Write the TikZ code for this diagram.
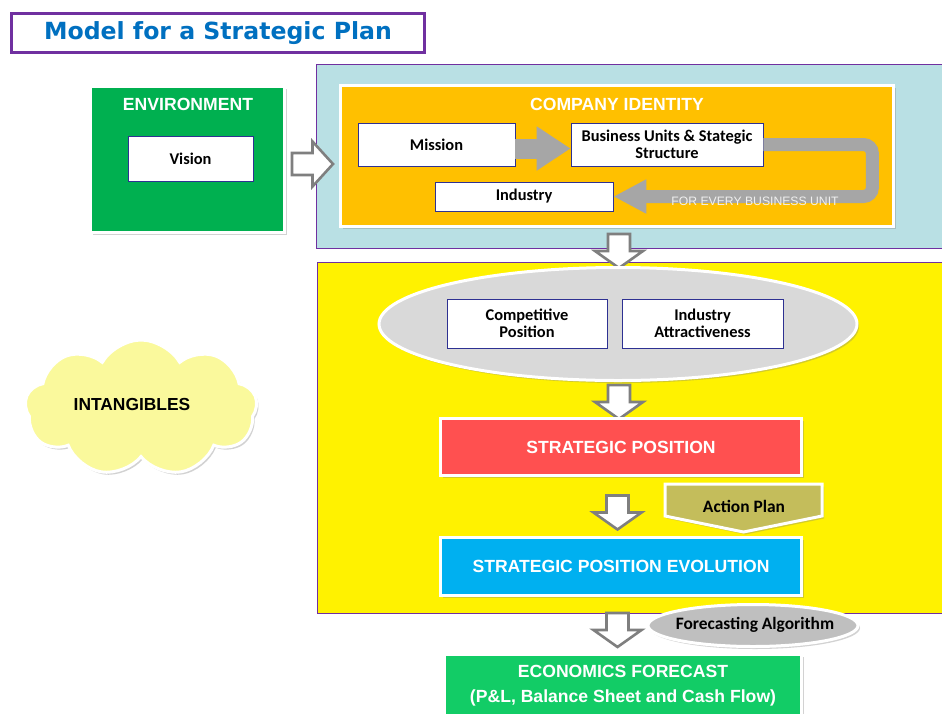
\documentclass[tikz,border=0pt]{standalone}
\usepackage{fontspec}
\usetikzlibrary{shapes,shadows,arrows.meta}
\newfontfamily\arialfont{Liberation Sans}
\newfontfamily\calibrifont{Carlito}
\newfontfamily\verdanafont{DejaVu Sans}
\definecolor{planpurple}{HTML}{7030A0}
\definecolor{titleblue}{HTML}{0070C0}
\definecolor{envgreen}{HTML}{00B050}
\definecolor{identityorange}{HTML}{FFC000}
\definecolor{panelblue}{HTML}{B9E0E4}
\definecolor{boxnavy}{HTML}{2E3192}
\definecolor{flowgray}{HTML}{A6A6A6}
\definecolor{hollowgray}{HTML}{7F7F7F}
\definecolor{ellipsegray}{HTML}{D9D9D9}
\definecolor{posred}{HTML}{FF5050}
\definecolor{evolblue}{HTML}{00B0F0}
\definecolor{actionolive}{HTML}{C4BD5B}
\definecolor{algogray}{HTML}{BFBFBF}
\definecolor{econgreen}{HTML}{12CC66}
\definecolor{cloudyellow}{HTML}{FAF99C}

\tikzset{
  panel/.style={shape=rectangle,draw=planpurple,line width=0.9pt},
  shadowed/.style={draw=white,line width=3pt,drop shadow={shadow xshift=2pt,shadow yshift=-2.5pt,opacity=0.35}},
  whitebox/.style={shape=rectangle,draw=boxnavy,fill=white,line width=0.8pt,align=center,inner sep=0pt,font=\calibrifont\bfseries\fontsize{16.4}{17.5}\selectfont},
  headtext/.style={text=white,align=center,font=\arialfont\bfseries\fontsize{17.6}{25}\selectfont},
  calibritext/.style={align=center,font=\calibrifont\bfseries\fontsize{17.4}{19}\selectfont},
  hollowarrow/.style={draw=hollowgray,fill=white,line width=2.6pt},
  flowline/.style={draw=flowgray},
  pics/downarrow/.style={code={\draw[hollowarrow] (-11,-17) -- (11,-17) -- (11,0) -- (24,0) -- (0,17) -- (-24,0) -- (-11,0) -- cycle;}},
  pics/rightarrow/.style={code={\draw[hollowarrow] (-20.5,-11) -- (0,-11) -- (0,-22.5) -- (20.5,0) -- (0,22.5) -- (0,11) -- (-20.5,11) -- cycle;}},
}

\begin{document}
\begin{tikzpicture}[x=1pt,y=-1pt]
\useasboundingbox (0,0) rectangle (942,713);
\fill[white] (0,0) rectangle (942,713);

\node[shape=rectangle,draw=planpurple,line width=3pt,fill=white,minimum width=413,minimum height=39,text=titleblue,font=\verdanafont\bfseries\fontsize{23.6}{28}\selectfont] (title) at (218,33) {Model for a Strategic Plan};

\node[panel,fill=panelblue,minimum width=634,minimum height=184] (identitypanel) at (633.5,156.5) {};
\node[panel,fill=yellow,minimum width=634,minimum height=351] (positionpanel) at (634,437.5) {};
\pic at (619,251) {downarrow};

\node[shadowed,fill=envgreen,minimum width=194,minimum height=146] (environment) at (187.5,159.5) {};
\node[headtext] (envtitle) at (188,104) {ENVIRONMENT};
\node[whitebox,minimum width=125,minimum height=45] (vision) at (190.5,158.5) {Vision};
\pic at (312.5,164) {rightarrow};

\node[shadowed,fill=identityorange,minimum width=553,minimum height=141] (identity) at (617,156) {};
\node[headtext] (identitytitle) at (617,104) {COMPANY IDENTITY};
\node[whitebox,minimum width=157,minimum height=43] (mission) at (436.5,144.5) {Mission};
\node[whitebox,minimum width=192,minimum height=43] (units) at (667,144.5) {Business Units \& Stategic\\Structure};
\node[whitebox,minimum width=178,minimum height=29] (industry) at (524,196.5) {Industry};
\draw[flowline,line width=20pt,-{Triangle[length=34pt,width=42pt]}] ([yshift=-4pt]mission.east) -- ([yshift=-4pt]units.west);
\draw[flowline,line width=13pt,rounded corners=9pt,-{Triangle[length=33pt,width=32pt]}] (units.east) -- ++(109,0) |- (industry.east);
\node[text=white!88!gray,font=\arialfont\fontsize{12.2}{13}\selectfont] (everyunit) at (755,201) {FOR EVERY BUSINESS UNIT};

\node[shape=ellipse,fill=ellipsegray,shadowed,minimum width=478,minimum height=113] (assessment) at (618,324) {};
\node[whitebox,minimum width=160,minimum height=49] (competitive) at (527,323.5) {Competitive\\Position};
\node[whitebox,minimum width=161,minimum height=49] (attractiveness) at (702.5,323.5) {Industry\\Attractiveness};

\node[shape=cloud,cloud puffs=9,cloud puff arc=120,cloud ignores aspect,fill=cloudyellow,shadowed,minimum width=232,minimum height=136] (intangibles) at (141,408) {};
\node[font=\arialfont\bfseries\fontsize{17.4}{20}\selectfont] (intangtext) at (132,405) {INTANGIBLES};

\pic at (619,402) {downarrow};
\node[shadowed,fill=posred,headtext,minimum width=361,minimum height=57] (strategicpos) at (621,447) {STRATEGIC POSITION};

\filldraw[fill=actionolive,shadowed] (665,484) -- (822,484) -- (822,516) -- (743.5,532) -- (665,516) -- cycle;
\node[calibritext] (actionplan) at (744,506) {Action Plan};
\pic at (617.5,512.5) {downarrow};
\node[shadowed,fill=evolblue,headtext,minimum width=361,minimum height=58] (evolution) at (621,566.5) {STRATEGIC POSITION EVOLUTION};

\pic at (617.5,630) {downarrow};
\node[shape=ellipse,fill=algogray,shadowed,minimum width=210,minimum height=42] (algorithm) at (753,625.5) {};
\node[calibritext] (algotext) at (755,625) {Forecasting Algorithm};
\node[shadowed,fill=econgreen,headtext,minimum width=357,minimum height=64] (economics) at (623,686) {ECONOMICS FORECAST\\(P\&L, Balance Sheet and Cash Flow)};
\end{tikzpicture}
\end{document}
